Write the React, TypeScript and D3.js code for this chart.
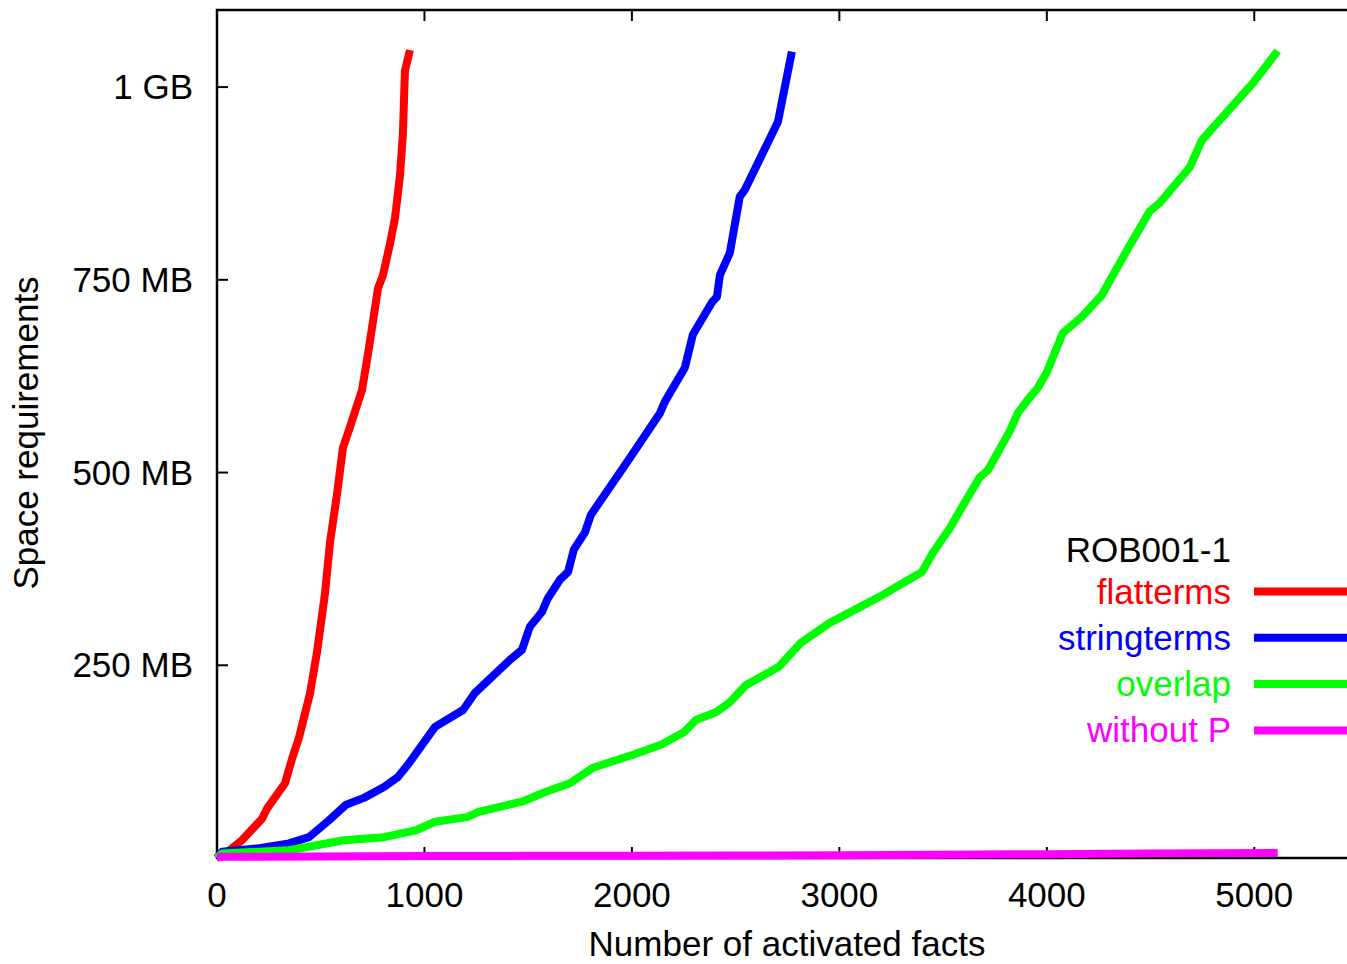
import React, { useEffect, useRef } from 'react';
import * as d3 from 'd3';

// number of activated facts / space in MB
const flattermsX = [0, 29, 120, 217, 241, 328, 361, 395, 448, 482, 520, 545, 578, 607, 641, 699, 728, 776, 800, 834, 858, 882, 896, 906, 930];
const flattermsY = [0, 3, 23, 51, 64, 97, 128, 156, 213, 267, 342, 410, 471, 532, 559, 607, 654, 739, 756, 797, 830, 885, 939, 1021, 1048];

const stringtermsX = [0, 24, 212, 347, 443, 540, 622, 708, 805, 872, 920, 1051, 1186, 1243, 1412, 1470, 1508, 1566, 1595, 1653, 1692, 1720, 1773, 1802, 1990, 2135, 2159, 2255, 2294, 2386, 2410, 2424, 2472, 2520, 2545, 2704, 2771];
const stringtermsY = [0, 8, 13, 19, 27, 49, 69, 78, 92, 105, 121, 170, 192, 214, 257, 270, 300, 319, 337, 361, 371, 400, 422, 445, 519, 577, 592, 636, 679, 721, 728, 756, 785, 858, 867, 955, 1046];

const overlapX = [0, 24, 347, 612, 805, 959, 1051, 1205, 1263, 1470, 1586, 1701, 1812, 2005, 2140, 2251, 2308, 2405, 2472, 2549, 2708, 2814, 2954, 3195, 3398, 3451, 3533, 3595, 3677, 3716, 3822, 3860, 3904, 3957, 4000, 4077, 4169, 4265, 4304, 4390, 4496, 4545, 4689, 4747, 4786, 4993, 5113];
const overlapY = [0, 6, 10, 23, 27, 36, 47, 53, 60, 73, 86, 97, 117, 134, 147, 163, 179, 189, 202, 224, 248, 279, 305, 339, 371, 396, 428, 457, 494, 503, 554, 577, 593, 610, 630, 681, 702, 730, 749, 790, 839, 850, 896, 931, 943, 1005, 1047];

const withoutPX = [0, 500, 1000, 1500, 2000, 2500, 3000, 3500, 4000, 4500, 5113];
const withoutPY = [1.5, 2, 2.5, 2.8, 3, 3.3, 3.6, 4.2, 5, 6, 6.5];

const xTicks = [0, 1000, 2000, 3000, 4000, 5000];
const yTicks = [250, 500, 750, 1000];
const yTickLabels = ['250 MB', '500 MB', '750 MB', '1 GB'];

const series = [
  { name: 'flatterms', color: '#ff0000', xs: flattermsX, ys: flattermsY },
  { name: 'stringterms', color: '#0000ff', xs: stringtermsX, ys: stringtermsY },
  { name: 'overlap', color: '#00ff00', xs: overlapX, ys: overlapY },
  { name: 'without P', color: '#ff00ff', xs: withoutPX, ys: withoutPY },
];

const W = 1347;
const H = 964;
const FONT = '"Liberation Sans", Arial, sans-serif';

const App = () => {
  const ref = useRef<SVGSVGElement | null>(null);

  useEffect(() => {
    if (!ref.current) return;
    const svg = d3.select(ref.current);
    svg.selectAll('*').remove();

    const left = 217, right = 1358, top = 10, bottom = 858;
    const x = d3.scaleLinear().domain([0, 5500]).range([left, right]);
    const y = d3.scaleLinear().domain([0, 1100]).range([bottom, top]);
    const tickLen = 11;

    const g = svg.append('g');

    // frame
    g.append('rect')
      .attr('x', left).attr('y', top)
      .attr('width', right - left).attr('height', bottom - top)
      .attr('fill', 'none').attr('stroke', '#000').attr('stroke-width', 2.5);

    // ticks, bottom + mirrored top
    xTicks.forEach(t => {
      g.append('line').attr('x1', x(t)).attr('x2', x(t)).attr('y1', bottom).attr('y2', bottom - tickLen)
        .attr('stroke', '#000').attr('stroke-width', 2);
      g.append('line').attr('x1', x(t)).attr('x2', x(t)).attr('y1', top).attr('y2', top + tickLen)
        .attr('stroke', '#000').attr('stroke-width', 2);
      g.append('text')
        .attr('x', x(t)).attr('y', 907)
        .attr('text-anchor', 'middle')
        .style('font-family', FONT).style('font-size', '35px')
        .text(String(t));
    });

    yTicks.forEach((t, i) => {
      g.append('line').attr('x1', left).attr('x2', left + tickLen).attr('y1', y(t)).attr('y2', y(t))
        .attr('stroke', '#000').attr('stroke-width', 2);
      g.append('line').attr('x1', right).attr('x2', right - tickLen).attr('y1', y(t)).attr('y2', y(t))
        .attr('stroke', '#000').attr('stroke-width', 2);
      g.append('text')
        .attr('x', 193).attr('y', y(t) + 12)
        .attr('text-anchor', 'end')
        .style('font-family', FONT).style('font-size', '35px')
        .text(yTickLabels[i]);
    });

    // axis titles
    g.append('text')
      .attr('x', 787).attr('y', 956)
      .attr('text-anchor', 'middle')
      .style('font-family', FONT).style('font-size', '35px')
      .text('Number of activated facts');

    g.append('text')
      .attr('transform', 'translate(38,433) rotate(-90)')
      .attr('text-anchor', 'middle')
      .style('font-family', FONT).style('font-size', '35px')
      .text('Space requirements');

    // curves
    const line = d3.line<[number, number]>()
      .x(d => x(d[0]))
      .y(d => y(d[1]));

    series.forEach(s => {
      const pts = s.xs.map((v, i) => [v, s.ys[i]] as [number, number]);
      g.append('path')
        .attr('d', line(pts))
        .attr('fill', 'none')
        .attr('stroke', s.color)
        .attr('stroke-width', 8)
        .attr('stroke-linejoin', 'round')
        .attr('stroke-linecap', 'butt');
    });

    // legend
    g.append('text')
      .attr('x', 1231).attr('y', 562)
      .attr('text-anchor', 'end')
      .style('font-family', FONT).style('font-size', '35px')
      .text('ROB001-1');

    series.forEach((s, i) => {
      const ly = 591.5 + i * 46.3;
      g.append('text')
        .attr('x', 1231).attr('y', ly + 12)
        .attr('text-anchor', 'end')
        .attr('fill', s.color)
        .style('font-family', FONT).style('font-size', '35px')
        .text(s.name);
      g.append('line')
        .attr('x1', 1254).attr('x2', 1365)
        .attr('y1', ly).attr('y2', ly)
        .attr('stroke', s.color).attr('stroke-width', 8);
    });
  }, []);

  return (
    <svg
      ref={ref}
      width={W}
      height={H}
      style={{ position: 'absolute', left: 0, top: 0, background: '#fff' }}
    />
  );
};

export default App;
